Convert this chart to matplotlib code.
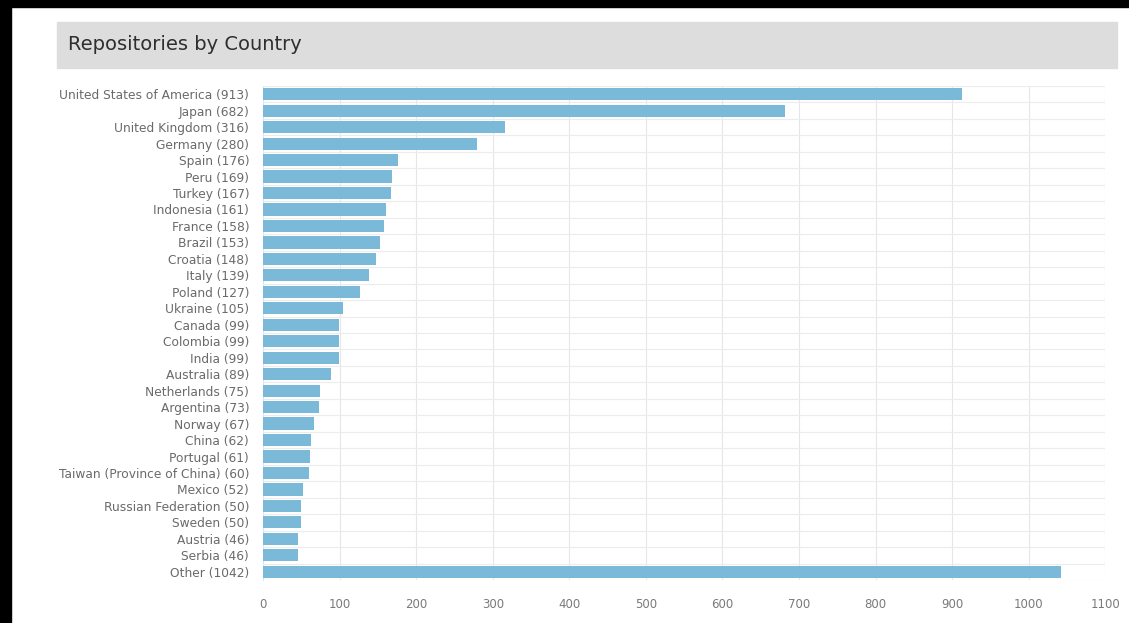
import matplotlib
matplotlib.use('Agg')
import matplotlib.pyplot as plt
from matplotlib.patches import Rectangle
import numpy as np

countries = ['United States of America', 'Japan', 'United Kingdom', 'Germany', 'Spain',
             'Peru', 'Turkey', 'Indonesia', 'France', 'Brazil', 'Croatia', 'Italy',
             'Poland', 'Ukraine', 'Canada', 'Colombia', 'India', 'Australia',
             'Netherlands', 'Argentina', 'Norway', 'China', 'Portugal',
             'Taiwan (Province of China)', 'Mexico', 'Russian Federation', 'Sweden',
             'Austria', 'Serbia', 'Other']
repos = [913, 682, 316, 280, 176, 169, 167, 161, 158, 153, 148, 139, 127, 105, 99,
         99, 99, 89, 75, 73, 67, 62, 61, 60, 52, 50, 50, 46, 46, 1042]
x_ticks = list(range(0, 1101, 100))

labels = [f'{c} ({v})' for c, v in zip(countries, repos)]

fig = plt.figure(figsize=(11.29, 6.23), dpi=100)
fig.patch.set_facecolor('white')

# black screen edges
fig.patches.append(Rectangle((0, 0), 0.0097, 1, transform=fig.transFigure, color='black', zorder=0))
fig.patches.append(Rectangle((0, 0.989), 1, 0.011, transform=fig.transFigure, color='black', zorder=0))

# title bar
fig.patches.append(Rectangle((0.0505, 0.891), 0.939, 0.074, transform=fig.transFigure,
                             color='#dddddd', zorder=0))
fig.text(0.060, 0.928, 'Repositories by Country', fontsize=14, color='#2e2e2e',
         va='center', ha='left')

ax = fig.add_axes([0.233, 0.069, 0.746, 0.793])
y = np.arange(len(labels))
ax.barh(y, repos, height=0.74, color='#7bb9d8', zorder=3)
ax.set_ylim(len(labels) - 0.5, -0.5)
ax.set_xlim(0, 1100)
ax.set_yticks(y)
ax.set_yticklabels(labels, fontsize=8.8, color='#6a6a6a')
ax.set_xticks(x_ticks)
ax.set_xticklabels([str(t) for t in x_ticks], fontsize=8.5, color='#7a7a7a')
ax.tick_params(axis='y', length=0, pad=10)
ax.tick_params(axis='x', length=0, pad=13)

# grid: vertical at ticks, horizontal between bars
ax.set_yticks(np.arange(len(labels) + 1) - 0.5, minor=True)
ax.grid(axis='x', which='major', color='#e6e6e6', linewidth=0.8, zorder=0)
ax.grid(axis='y', which='minor', color='#ececec', linewidth=0.8, zorder=0)
ax.tick_params(axis='y', which='minor', length=0)
for s in ['top', 'right', 'bottom']:
    ax.spines[s].set_visible(False)
ax.spines['left'].set_color('#d6e8f2')

fig.savefig('out.png', dpi=100)
